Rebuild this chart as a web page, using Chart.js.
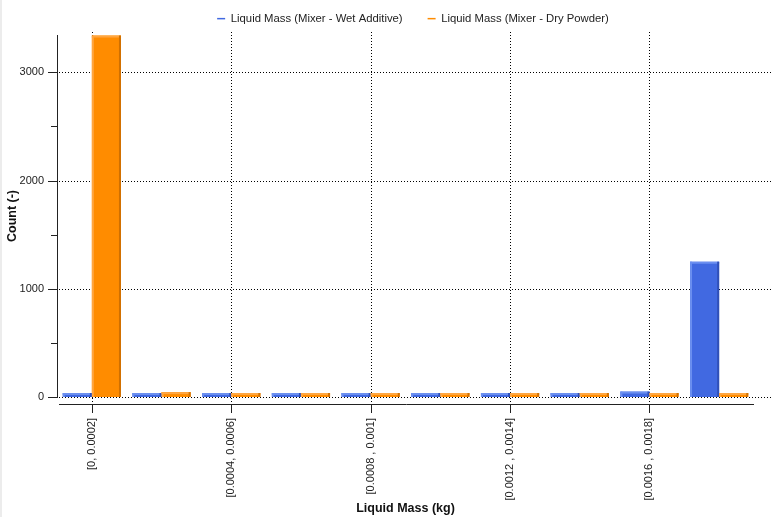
<!DOCTYPE html>
<html>
<head>
<meta charset="utf-8">
<script src="https://cdn.jsdelivr.net/npm/chart.js@4"></script>
<style>
  html, body { margin: 0; padding: 0; background: #fff; }
  #wrap { width: 773px; height: 517px; position: relative; }
  #wrap::before { content: ''; position: absolute; left: 0; top: 0; bottom: 0; width: 2px; background: #ececec; }
</style>
</head>
<body>
<div id="wrap"><canvas id="c" width="773" height="517"></canvas></div>
<script>
const categories = [
  '[0, 0.0002]', '[0.0002, 0.0004]', '[0.0004, 0.0006]', '[0.0006, 0.0008]', '[0.0008 , 0.001]',
  '[0.001, 0.0012]', '[0.0012 , 0.0014]', '[0.0014, 0.0016]', '[0.0016 , 0.0018]', '[0.0018, 0.002]'
]
const wetAdditive = [0, 0, 0, 0, 0, 0, 0, 15, 50, 1250]
const dryPowder = [3340, 45, 15, 0, 0, 0, 0, 0, 0, 0]
const seriesNames = ['Liquid Mass (Mixer - Wet Additive)', 'Liquid Mass (Mixer - Dry Powder)']
const yMajorTicks = [0, 1000, 2000, 3000]

const font = 'Liberation Sans, Arial, sans-serif'
const axisGap = 7 // x axis line sits a bit below zero

const shades = {
  blue: { fill: '#4169e1', light: '#6b8ff0', dark: '#3050b8' },
  orange: { fill: '#ff8c00', light: '#ffa640', dark: '#d07000' }
}

// light left/top edge, dark right edge on every bar
const barShade = {
  id: 'barShade',
  afterDatasetsDraw(chart) {
    const ctx = chart.ctx
    chart.data.datasets.forEach((ds, i) => {
      const s = ds.shade
      chart.getDatasetMeta(i).data.forEach((bar) => {
        const left = bar.x - bar.width / 2
        const top = Math.min(bar.y, bar.base)
        const h = Math.abs(bar.base - bar.y)
        ctx.save()
        ctx.fillStyle = s.light
        ctx.fillRect(left, top, 2, h)
        ctx.fillRect(left, top, bar.width, Math.min(2, h / 2))
        ctx.fillStyle = s.dark
        ctx.fillRect(left + bar.width - 2, top, 2, h)
        ctx.restore()
      })
    })
  }
}

// dotted grid, detached x axis line, tick marks
const axesDeco = {
  id: 'axesDeco',
  beforeDatasetsDraw(chart) {
    const ctx = chart.ctx
    const area = chart.chartArea
    const x = chart.scales.x
    const y = chart.scales.y
    const axisY = area.bottom + axisGap
    ctx.save()
    ctx.strokeStyle = '#000'
    ctx.lineWidth = 1
    ctx.setLineDash([1, 2])
    yMajorTicks.forEach((v) => {
      const py = Math.round(y.getPixelForValue(v)) + 0.5
      ctx.beginPath()
      ctx.moveTo(area.left + 2, py)
      ctx.lineTo(chart.width - 1, py)
      ctx.stroke()
    })
    categories.forEach((c, i) => {
      if (i % 2) return
      const px = Math.round(x.getPixelForValue(i)) + 0.5
      ctx.beginPath()
      ctx.moveTo(px, area.top - 3)
      ctx.lineTo(px, axisY)
      ctx.stroke()
    })
    ctx.setLineDash([])
    ctx.strokeStyle = '#222'
    // x axis line + ticks
    ctx.beginPath()
    ctx.moveTo(x.left + 2, axisY + 0.5)
    ctx.lineTo(x.right, axisY + 0.5)
    categories.forEach((c, i) => {
      if (i % 2) return
      const px = Math.round(x.getPixelForValue(i)) + 0.5
      ctx.moveTo(px, axisY)
      ctx.lineTo(px, axisY + 9)
    })
    ctx.stroke()
    // y ticks, major and minor
    ctx.beginPath()
    for (let v = 0; v <= y.max; v += 500) {
      const py = Math.round(y.getPixelForValue(v)) + 0.5
      ctx.moveTo(area.left - (v % 1000 ? 6 : 9), py)
      ctx.lineTo(area.left, py)
    }
    ctx.stroke()
    ctx.restore()
  }
}

// fixed legend band height, legend nudged right like the original
const legendBox = {
  id: 'legendBox',
  beforeInit(chart) {
    const fit = chart.legend.fit
    chart.legend.fit = function () {
      fit.bind(chart.legend)()
      this.height = 47
    }
  },
  afterLayout(chart) {
    chart.legend.left += 36
    chart.legend.right += 36
  }
}

new Chart(document.getElementById('c'), {
  type: 'bar',
  data: {
    labels: categories,
    datasets: [
      { label: seriesNames[0], data: wetAdditive, backgroundColor: shades.blue.fill, shade: shades.blue },
      { label: seriesNames[1], data: dryPowder, backgroundColor: shades.orange.fill, shade: shades.orange }
    ]
  },
  options: {
    responsive: false,
    animation: false,
    categoryPercentage: 0.835,
    barPercentage: 1,
    minBarLength: 4,
    layout: { padding: { left: 0, right: 19, top: -12, bottom: 0 } },
    plugins: {
      tooltip: { enabled: false },
      legend: {
        position: 'top',
        labels: {
          usePointStyle: true,
          pointStyle: 'line',
          pointStyleWidth: 8,
          padding: 25,
          color: '#222',
          font: { family: font, size: 11.3 },
          generateLabels(chart) {
            return chart.data.datasets.map((ds, i) => ({
              text: ds.label,
              strokeStyle: ds.backgroundColor,
              fillStyle: ds.backgroundColor,
              lineWidth: 1.5,
              pointStyle: 'line',
              datasetIndex: i,
              fontColor: '#222'
            }))
          }
        }
      }
    },
    scales: {
      x: {
        offset: true,
        grid: { display: false, drawTicks: false },
        border: { display: false },
        ticks: {
          autoSkip: false,
          minRotation: 90,
          maxRotation: 90,
          padding: 21,
          color: '#222',
          font: { family: font, size: 11 },
          callback: (v, i) => (i % 2 ? '' : categories[i])
        },
        title: {
          display: true,
          text: 'Liquid Mass (kg)',
          color: '#111',
          font: { family: font, size: 12.5, weight: 'bold' },
          padding: { top: 0, bottom: 1 }
        },
        afterFit(scale) { scale.height = 120 }
      },
      y: {
        min: 0,
        max: 3345,
        grid: { display: false, drawTicks: false },
        border: { display: true, color: '#222', width: 1 },
        afterBuildTicks(scale) {
          scale.ticks = yMajorTicks.map((v) => ({ value: v }))
        },
        ticks: {
          padding: 13,
          color: '#222',
          font: { family: font, size: 11 },
          callback: (v) => String(v)
        },
        title: {
          display: true,
          text: 'Count (-)',
          color: '#111',
          font: { family: font, size: 12.5, weight: 'bold' },
          padding: { top: 5, bottom: 0 }
        },
        afterFit(scale) { scale.width = 57 }
      }
    }
  },
  plugins: [legendBox, axesDeco, barShade]
})
</script>
</body>
</html>
